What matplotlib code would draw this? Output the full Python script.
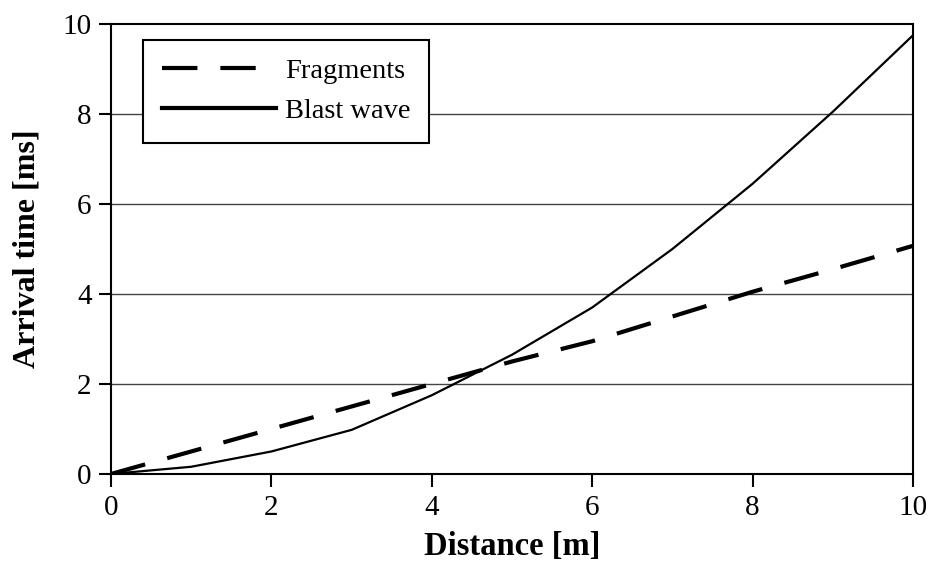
import matplotlib
matplotlib.use("Agg")
import matplotlib.pyplot as plt
from matplotlib.lines import Line2D

# data
distance   = [0, 1, 2, 3, 4, 5, 6, 7, 8, 9, 10]
fragments  = [0.0, 0.5, 1.0, 1.5, 2.0, 2.5, 2.95, 3.5, 4.05, 4.55, 5.07]
blast_wave = [0.0, 0.16, 0.5, 0.98, 1.75, 2.65, 3.7, 5.0, 6.45, 8.05, 9.75]

x_ticks = [0, 2, 4, 6, 8, 10]
y_ticks = [0, 2, 4, 6, 8, 10]

plt.rcParams["font.family"] = ["Liberation Serif", "DejaVu Serif"]

fig = plt.figure(figsize=(9.33, 5.78), dpi=100)
ax = fig.add_axes([0.119, 0.18, 0.8596, 0.7785])

# horizontal grid
for yv in y_ticks[1:-1]:
    ax.axhline(yv, color="#444444", linewidth=1.0, zorder=1)

ax.plot(distance, fragments, color="black", linewidth=3.0,
        dashes=(8.5, 5.5), zorder=3)
ax.plot(distance, blast_wave, color="black", linewidth=1.6, zorder=3)

ax.set_xlim(0, 10)
ax.set_ylim(0, 10)
ax.set_xticks(x_ticks)
ax.set_yticks(y_ticks)
ax.tick_params(axis="both", direction="out", length=9, width=1.5,
               labelsize=21, colors="black", pad=5)
ax.tick_params(axis="x", pad=6)
for sp in ax.spines.values():
    sp.set_linewidth(1.5)

ax.set_xlabel("Distance [m]", fontsize=23.5, fontweight="bold", labelpad=7)
ax.set_ylabel("Arrival time [ms]", fontsize=23, fontweight="bold", labelpad=15)

handles = [
    Line2D([], [], color="black", linewidth=3.0, dashes=(8.5, 5.5)),
    Line2D([], [], color="black", linewidth=3.0),
]
leg = ax.legend(handles, ["Fragments", "Blast wave"], loc="upper left",
                bbox_to_anchor=(0.04, 0.965), borderaxespad=0,
                fontsize=20.5, handlelength=4.0, handletextpad=0.35,
                fancybox=False, framealpha=1, edgecolor="black",
                borderpad=0.65, labelspacing=0.5)
leg.get_frame().set_linewidth(1.5)

fig.savefig("out.png", dpi=100)
